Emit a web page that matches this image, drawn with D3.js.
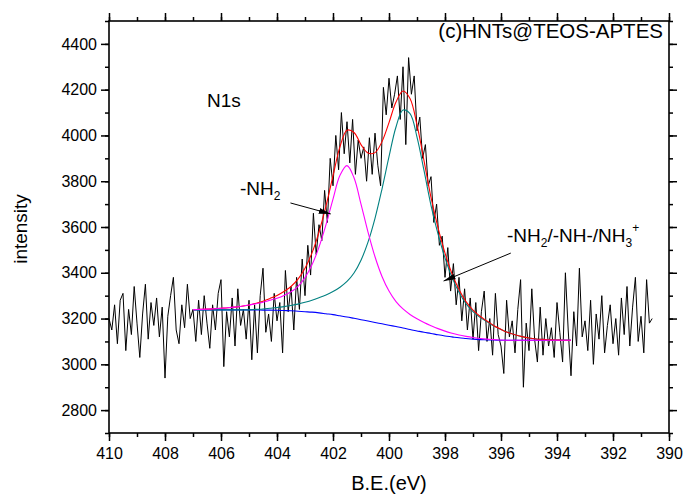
<!DOCTYPE html>
<html>
<head>
<meta charset="utf-8">
<script src="https://cdn.jsdelivr.net/npm/d3@7"></script>
<style>
  body { margin: 0; background: #fff; }
  text { font-family: "Liberation Sans", Arial, sans-serif; fill: #000; }
</style>
</head>
<body>
<svg id="chart" width="685" height="499"></svg>
<script>
// raw N1s spectrum, 0.1 eV steps from 410.0 down to 390.6 eV
const rawStart = 410.0;
const rawStep = 0.1;
const rawCounts = [
  3200,3150,3260,3090,3280,3310,3060,3240,3130,3340,
  3180,3030,3220,3350,3110,3270,3170,3290,3120,3250,
  2940,3210,3300,3380,3150,3090,3260,3160,3350,3200,
  3240,3100,3280,3130,3300,3180,3070,3260,3150,3310,
  3370,2990,3230,3120,3290,3080,3330,3170,3240,3110,
  3280,3020,3260,3050,3300,3420,3140,3220,3100,3310,
  3190,3270,3050,3410,3230,3340,3150,3380,3240,3460,
  3300,3520,3390,3660,3480,3610,3540,3760,3620,3900,
  3780,4000,3850,4100,3920,4060,3880,4070,3830,3980,
  3900,3950,3800,3990,3830,4010,3870,3780,4210,4090,
  4250,4120,4180,4260,4070,4300,3960,4340,4180,4260,
  4020,4080,3900,3960,3780,3820,3620,3700,3520,3560,
  3380,3510,3320,3440,3260,3380,3190,3330,3150,3290,
  3110,3270,3060,3230,3320,3100,3200,3040,3310,3130,
  3080,2960,3280,3120,3190,3050,3240,3370,2900,3180,
  3060,3330,3110,3010,3250,3040,3200,3080,3160,3030,
  3270,3140,3010,3400,3150,2950,3230,3080,3420,3120,
  3190,3060,3280,3000,3220,3110,3300,3050,3170,3260,
  3090,3200,3040,3290,3130,3340,3080,3250,3380,3100,
  3210,3050,3370,3180,3200
];

// fitted curves, 0.25 eV steps from 407.0 down to 393.5 eV
const fitStart = 407.0;
const fitStep = 0.25;
const fitBackground = [
  3238,3238,3238,3238,3238,3238,3238,3238,3238,3238,
  3237,3237,3236,3235,3234,3232,3230,3228,3225,3221,
  3217,3212,3207,3201,3195,3189,3183,3177,3171,3165,
  3159,3152,3146,3140,3135,3129,3124,3120,3116,3113,
  3110,3108,3107,3106,3105,3105,3105,3105,3105,3105,
  3105,3105,3105,3105,3105
];
const fitNH2 = [
  3239,3240,3241,3243,3245,3247,3250,3254,3259,3265,
  3271,3280,3289,3301,3317,3341,3379,3435,3512,3610,
  3722,3826,3868,3815,3700,3578,3470,3384,3320,3274,
  3242,3218,3199,3183,3169,3156,3145,3136,3128,3122,
  3117,3113,3110,3108,3106,3105,3105,3105,3105,3105,
  3105,3105,3105,3105,3105
];
const fitNH3 = [
  3238,3238,3238,3238,3238,3238,3238,3238,3238,3240,
  3242,3245,3248,3252,3257,3263,3271,3280,3291,3303,
  3318,3337,3362,3399,3455,3534,3638,3766,3907,4037,
  4111,4095,3993,3847,3695,3570,3465,3380,3315,3265,
  3230,3205,3186,3167,3152,3139,3129,3121,3115,3111,
  3109,3107,3106,3105,3105
];
const fitEnvelope = [
  3239,3240,3241,3243,3245,3247,3250,3254,3259,3267,
  3276,3288,3301,3318,3340,3372,3420,3487,3578,3692,
  3823,3951,4023,4013,3960,3923,3925,3973,4056,4146,
  4194,4161,4046,3890,3729,3597,3486,3396,3327,3274,
  3237,3210,3189,3169,3153,3139,3129,3121,3115,3111,
  3109,3107,3106,3105,3105
];

const xMajor = [410, 408, 406, 404, 402, 400, 398, 396, 394, 392, 390];
const yMajor = [2800, 3000, 3200, 3400, 3600, 3800, 4000, 4200, 4400];

const svg = d3.select("#chart");
const plotL = 109, plotR = 669, plotT = 21, plotB = 433;

const x = d3.scaleLinear().domain([410, 390]).range([plotL, plotR]);
const y = d3.scaleLinear().domain([2700, 4500]).range([plotB, plotT]);

const rawData = rawCounts.map((v, i) => [rawStart - i * rawStep, v]);
const toFit = arr => arr.map((v, i) => [fitStart - i * fitStep, v]);

// spectrum
svg.append("path")
  .datum(rawData)
  .attr("fill", "none")
  .attr("stroke", "#000")
  .attr("stroke-width", 1)
  .attr("d", d3.line().x(d => x(d[0])).y(d => y(d[1])));

// fits
const smooth = d3.line().x(d => x(d[0])).y(d => y(d[1])).curve(d3.curveCatmullRom);
const fits = [
  [fitBackground, "#0000ff"],
  [fitNH3, "#008080"],
  [fitEnvelope, "#ff0000"],
  [fitNH2, "#ff00ff"]
];
fits.forEach(f => {
  svg.append("path")
    .datum(toFit(f[0]))
    .attr("fill", "none")
    .attr("stroke", f[1])
    .attr("stroke-width", 1.1)
    .attr("d", smooth);
});

// axes
function styleAxis(g) {
  g.select(".domain").remove();
  g.selectAll("line").attr("stroke", "#000").attr("stroke-width", 1.5);
  g.selectAll("text").style("font-size", "16px").attr("fill", "#000");
}
const xMinor = d3.range(390, 411, 1);
const yMinor = d3.range(2700, 4501, 100);

svg.append("g").attr("transform", `translate(0,${plotB})`)
  .call(d3.axisBottom(x).tickValues(xMinor).tickSize(4).tickFormat("")).call(styleAxis);
svg.append("g").attr("transform", `translate(0,${plotB})`)
  .call(d3.axisBottom(x).tickValues(xMajor).tickSize(8).tickPadding(7).tickFormat(d3.format("d"))).call(styleAxis);
svg.append("g").attr("transform", `translate(0,${plotT})`)
  .call(d3.axisTop(x).tickValues(xMinor).tickSize(4).tickFormat("")).call(styleAxis);
svg.append("g").attr("transform", `translate(0,${plotT})`)
  .call(d3.axisTop(x).tickValues(xMajor).tickSize(8).tickFormat("")).call(styleAxis);

svg.append("g").attr("transform", `translate(${plotL},0)`)
  .call(d3.axisLeft(y).tickValues(yMinor).tickSize(4).tickFormat("")).call(styleAxis);
svg.append("g").attr("transform", `translate(${plotL},0)`)
  .call(d3.axisLeft(y).tickValues(yMajor).tickSize(8).tickPadding(4).tickFormat(d3.format("d"))).call(styleAxis);
svg.append("g").attr("transform", `translate(${plotR},0)`)
  .call(d3.axisRight(y).tickValues(yMinor).tickSize(4).tickFormat("")).call(styleAxis);
svg.append("g").attr("transform", `translate(${plotR},0)`)
  .call(d3.axisRight(y).tickValues(yMajor).tickSize(8).tickFormat("")).call(styleAxis);

// frame
svg.append("rect")
  .attr("x", plotL).attr("y", plotT)
  .attr("width", plotR - plotL).attr("height", plotB - plotT)
  .attr("fill", "none").attr("stroke", "#000").attr("stroke-width", 1.6);

// axis titles
svg.append("text")
  .attr("x", (plotL + plotR) / 2).attr("y", 490)
  .attr("text-anchor", "middle").style("font-size", "20px")
  .text("B.E.(eV)");
svg.append("text")
  .attr("transform", "translate(27,229) rotate(-90)")
  .attr("text-anchor", "middle").style("font-size", "19px")
  .text("intensity");

// labels
svg.append("text").attr("x", 663).attr("y", 38)
  .attr("text-anchor", "end").style("font-size", "20.5px")
  .text("(c)HNTs@TEOS-APTES");
svg.append("text").attr("x", 207).attr("y", 107)
  .style("font-size", "19px").text("N1s");

const nh2 = svg.append("text").attr("x", 240).attr("y", 195).style("font-size", "19px");
nh2.append("tspan").text("-NH");
nh2.append("tspan").attr("dy", 5).style("font-size", "12px").text("2");

const nh3 = svg.append("text").attr("x", 507).attr("y", 242).style("font-size", "19px");
nh3.append("tspan").text("-NH");
nh3.append("tspan").attr("dy", 5).style("font-size", "12px").text("2");
nh3.append("tspan").attr("dy", -5).text("/-NH-/NH");
nh3.append("tspan").attr("dy", 5).style("font-size", "12px").text("3");
nh3.append("tspan").attr("dy", -15).style("font-size", "12px").text("+");

// arrows (data coordinates)
svg.append("defs").append("marker")
  .attr("id", "head")
  .attr("markerUnits", "userSpaceOnUse")
  .attr("markerWidth", 13).attr("markerHeight", 8)
  .attr("refX", 12).attr("refY", 4)
  .attr("orient", "auto")
  .append("path").attr("d", "M0,1 L12,4 L0,7 Z").attr("fill", "#000");

const arrows = [
  [403.52, 3705, 402.08, 3657],
  [395.65, 3486, 398.05, 3364]
];
arrows.forEach(a => {
  svg.append("line")
    .attr("x1", x(a[0])).attr("y1", y(a[1]))
    .attr("x2", x(a[2])).attr("y2", y(a[3]))
    .attr("stroke", "#000").attr("stroke-width", 1)
    .attr("marker-end", "url(#head)");
});
</script>
</body>
</html>
